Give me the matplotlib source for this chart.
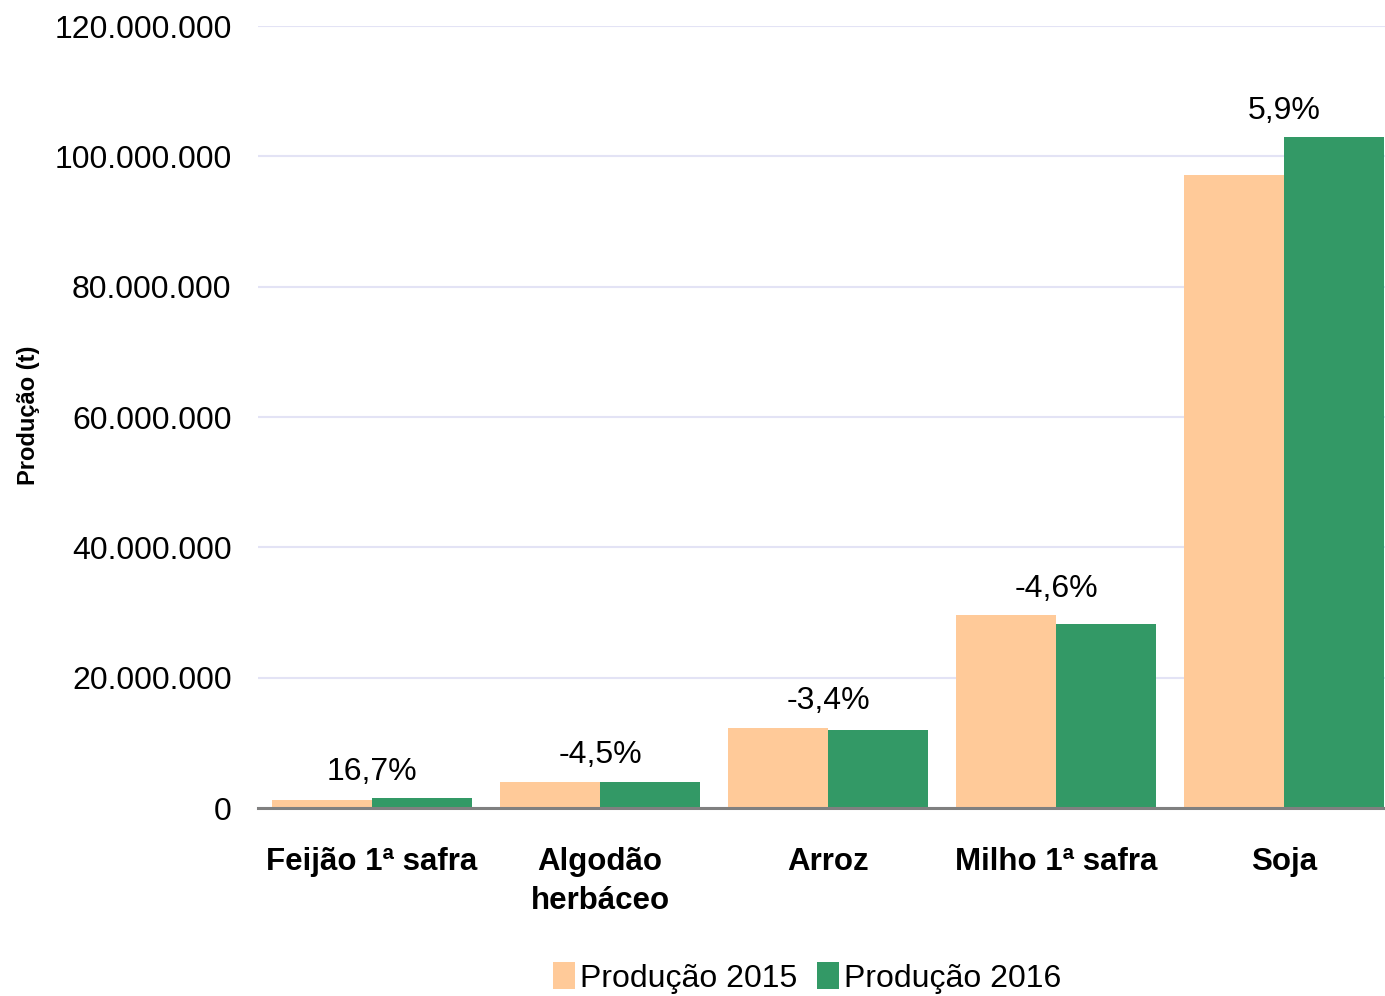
import matplotlib.pyplot as plt
import matplotlib.ticker as mticker
import numpy as np

categories = ["Feijão 1ª safra", "Algodão\nherbáceo", "Arroz", "Milho 1ª safra", "Soja"]
prod_2015 = [1_300_000, 4_050_000, 12_350_000, 29_550_000, 97_100_000]
prod_2016 = [1_520_000, 3_950_000, 11_950_000, 28_250_000, 102_900_000]
variation = ["16,7%", "-4,5%", "-3,4%", "-4,6%", "5,9%"]

plt.rcParams["font.family"] = ["Liberation Sans", "DejaVu Sans"]

fig = plt.figure(figsize=(13.85, 9.96), dpi=100)
ax = fig.add_axes([258 / 1385, 188 / 996, 1140 / 1385, 782 / 996])

x = np.arange(len(categories))
w = 0.438
ax.bar(x - w / 2, prod_2015, width=w, color="#FFCA99", label="Produção 2015", zorder=2)
ax.bar(x + w / 2, prod_2016, width=w, color="#339966", label="Produção 2016", zorder=2)

for xi, a, b, txt in zip(x, prod_2015, prod_2016, variation):
    ax.annotate(txt, (xi, max(a, b)), xytext=(0, 8), textcoords="offset points",
                ha="center", va="bottom", fontsize=23)

ax.set_xlim(-0.5, 4.5)
ax.set_ylim(0, 120_000_000)
ax.set_yticks(np.arange(0, 120_000_001, 20_000_000))
ax.yaxis.set_major_formatter(mticker.FuncFormatter(lambda v, p: f"{int(v):,}".replace(",", ".")))
ax.tick_params(axis="y", labelsize=23, length=0, pad=19)
ax.set_xticks(x)
ax.set_xticklabels(categories, fontsize=22.5, fontweight="bold", linespacing=1.4)
ax.tick_params(axis="x", length=0, pad=28)

ax.grid(axis="y", color="#E3E3F5", linewidth=1.5, zorder=0)
for s in ["top", "right", "left"]:
    ax.spines[s].set_visible(False)
ax.spines["bottom"].set_color("#808080")
ax.spines["bottom"].set_linewidth(2.2)
ax.spines["bottom"].set_zorder(3)

fig.text(28 / 1385, 1 - 415 / 996, "Produção (t)", rotation=90, ha="center", va="center",
         fontsize=17, fontweight="bold")

fig.legend(loc="center", bbox_to_anchor=(807 / 1385, 1 - 978 / 996), ncol=2, frameon=False,
           fontsize=23, handlelength=0.7, handleheight=0.9, handletextpad=0.15, columnspacing=0.6)

fig.savefig("out.png", dpi=100)
